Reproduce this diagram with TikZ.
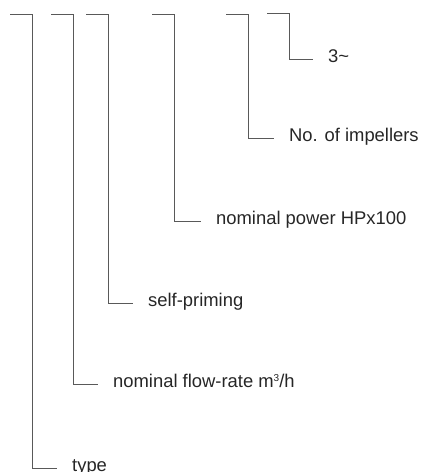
\documentclass[tikz,border=0pt]{standalone}
\usepackage{fontspec}
\setmainfont{Liberation Sans}
\usetikzlibrary{positioning}

\newcommand{\cubed}{{\fontsize{10}{10}\selectfont\raisebox{0.62em}{3}}}

\begin{document}
\begin{tikzpicture}[x=1pt,y=-1pt,node distance=40pt,shorten >=15pt]
		\tikzstyle{every node}=[inner sep=0pt,text height=0.72em,text depth=0pt,
			text=black!85,font=\fontsize{18.4}{22}\selectfont]
		\tikzstyle{code line}=[draw=black!65,line width=0.9pt]

		\useasboundingbox (0,0) rectangle (421,472);

		\coordinate (T_type) at (10,14);
		\coordinate (T_flow) at (51,14);
		\coordinate (T_self) at (86,14);
		\coordinate (T_power) at (152,14);
		\coordinate (T_imp) at (226,14);
		\coordinate (T_phase) at (267,13);

		\coordinate (C_type) at (32,468);
		\coordinate (C_flow) at (73,384);
		\coordinate (C_self) at (108,303);
		\coordinate (C_power) at (174,221);
		\coordinate (C_imp) at (248,138);
		\coordinate (C_phase) at (289,59);

		\node[right=of C_type] (type) {type};
		\node[right=of C_flow] (flow) {nominal flow-rate m\cubed/h};
		\node[right=of C_self] (self) {self-priming};
		\node[right=42pt of C_power] (power) {nominal power HPx100};
		\node[right=41pt of C_imp] (imp) {No. of impellers};
		\node[right=39pt of C_phase] (phase) {3\textasciitilde};

		\draw[code line] (T_type) -| (C_type) -- (type);
		\draw[code line] (T_flow) -| (C_flow) -- (flow);
		\draw[code line] (T_self) -| (C_self) -- (self);
		\draw[code line] (T_power) -| (C_power) -- (power);
		\draw[code line] (T_imp) -| (C_imp) -- (imp);
		\draw[code line] (T_phase) -| (C_phase) -- (phase);
	\end{tikzpicture}
\end{document}
